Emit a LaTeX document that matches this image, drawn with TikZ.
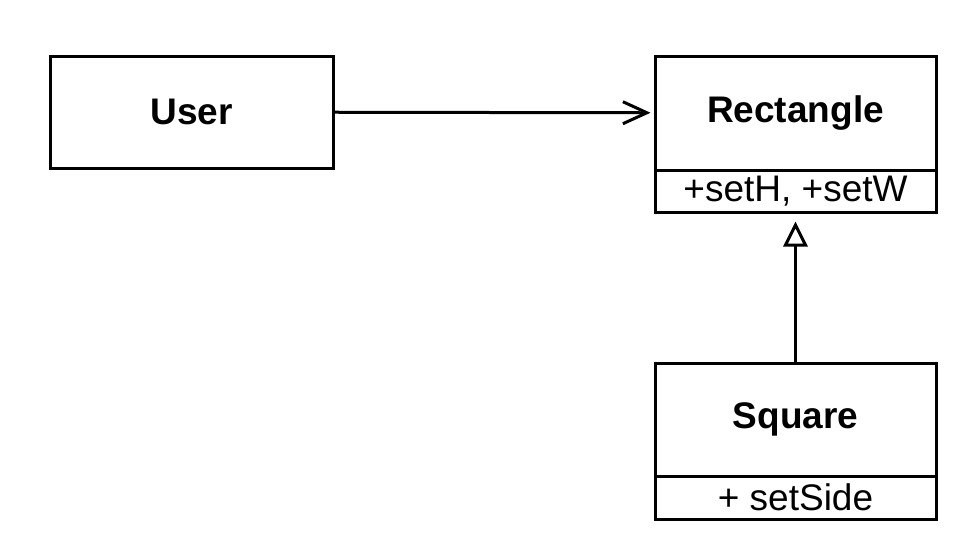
\documentclass[tikz,border=0pt]{standalone}
\usepackage{fontspec}
\setmainfont{Liberation Sans}
\usetikzlibrary{arrows.meta}
\tikzset{
  classname/.style={draw, line width=1.5pt, minimum width=140.5pt, inner sep=0pt, font=\fontsize{18.5}{20}\selectfont\bfseries},
  classops/.style={draw, line width=1.5pt, minimum width=140.5pt, inner sep=0pt, font=\fontsize{18.5}{20}\selectfont}
}
\begin{document}
\begin{tikzpicture}[x=0.5pt,y=-0.5pt]
        \useasboundingbox (0,0) rectangle (964,553);

        \node[classname, minimum width=141.5pt, minimum height=56pt] (user) at (191.5,112) {User};
        \node[classname, minimum height=57pt] (rect) at (795.5,113) {Rectangle};
        \node[classops, minimum height=21pt] (rectops) at (795.5,191) {+setH, +setW};
        \node[classname, minimum height=56.5pt] (square) at (795.5,419.5) {Square};
        \node[classops, minimum height=21.5pt] (squareops) at (795.5,497.5) {+ setSide};

        \draw[line width=1.5pt, -{Straight Barb[length=12pt, width=11pt]}, shorten >=1.5pt] (user) -- (rect);
        \draw[line width=1.5pt, -{Triangle[open, length=12.5pt, width=12pt]}, shorten >=4pt] (square) -- (rectops);

    \end{tikzpicture}
\end{document}
